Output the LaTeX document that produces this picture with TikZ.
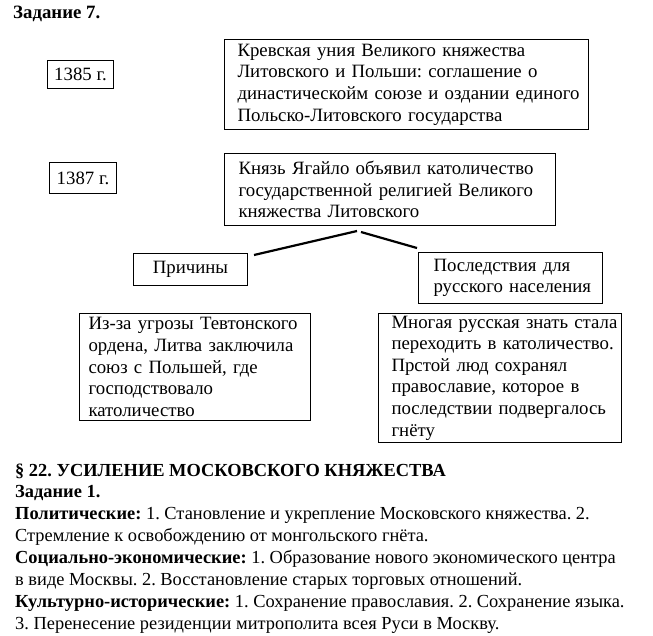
\documentclass[tikz,border=0pt]{standalone}
\usepackage{fontspec}
\setmainfont{Liberation Serif}
\usetikzlibrary{positioning,calc}
\frenchspacing

\begin{document}
\begin{tikzpicture}[
    x=1pt, y=-1pt,
    every node/.style={font=\fontsize{18.8}{21.6}\selectfont},
    box/.style={rectangle, draw, line width=1pt, anchor=north west, align=left, inner sep=0pt,
        execute at begin node={\leftskip=#1}},
    box/.default=13pt,
    yearbox/.style={rectangle, draw, line width=1pt, anchor=north west, align=center, inner sep=0pt},
    link/.style={line width=2.2pt},
    textline/.style={anchor=base west, inner sep=0pt, font=\fontsize{18.4}{22}\selectfont}
]

\useasboundingbox (0,0) rectangle (653,635);

% Heading
\node[textline, font=\fontsize{18.8}{22}\selectfont] (task7) at (13,18) {\textbf{Задание 7.}};

% Years
\node[yearbox, minimum width=66pt, minimum height=28pt] (y1385) at (47,60) {1385 г.};
\node[yearbox, minimum width=67pt, minimum height=31pt] (y1387) at (49,162) {1387 г.};

% Events
\node[box, text width=364pt, minimum height=90pt] (krevo) at (224,39)
    {Кревская уния Великого княжества\\Литовского и Польши: соглашение о\\династическойм союзе и оздании единого\\Польско-Литовского государства};
\node[box=14pt, text width=331pt, minimum height=72pt] (jagiello) at (224,153)
    {Князь Ягайло объявил католичество\\государственной религией Великого\\княжества Литовского};

% Branches
\node[yearbox, minimum width=114pt, minimum height=32pt] (causes) at (133,253) {Причины};
\node[box=15pt, text width=184pt, minimum height=51pt] (effects) at (418,252)
    {Последствия для\\русского населения};

\draw[link] ([shift={(133,5)}]jagiello.south west) -- ([shift={(6,2)}]causes.north east);
\draw[link] ([shift={(137,6)}]jagiello.south west) -- ([shift={(-1,-4)}]effects.north west);

% Details
\node[box=9pt, text width=231pt, minimum height=107pt] (why) at (79,313)
    {Из-за угрозы Тевтонского\\ордена, Литва заключила\\союз с Польшей, где\\господствовало\\католичество};
\node[box, text width=243pt, minimum height=129pt] (what) at (378,313)
    {Многая русская знать стала\\переходить в католичество.\\Прстой люд сохранял\\православие, которое в\\последствии подвергалось\\гнёту};

% Paragraph 22
\node[textline] (sec) at (15,476) {\textbf{§ 22. УСИЛЕНИЕ МОСКОВСКОГО КНЯЖЕСТВА}};
\node[textline] (task1) at (15,497) {\textbf{Задание 1.}};
\node[textline] (pol1) at (15,519) {\textbf{Политические:} 1. Становление и укрепление Московского княжества. 2.};
\node[textline] (pol2) at (15,541) {Стремление к освобождению от монгольского гнёта.};
\node[textline] (soc1) at (15,563) {\textbf{Социально-экономические:} 1. Образование нового экономического центра};
\node[textline] (soc2) at (15,585) {в виде Москвы. 2. Восстановление старых торговых отношений.};
\node[textline] (cult1) at (15,607) {\textbf{Культурно-исторические:} 1. Сохранение православия. 2. Сохранение языка.};
\node[textline] (cult2) at (15,629) {3. Перенесение резиденции митрополита всея Руси в Москву.};

\end{tikzpicture}
\end{document}
